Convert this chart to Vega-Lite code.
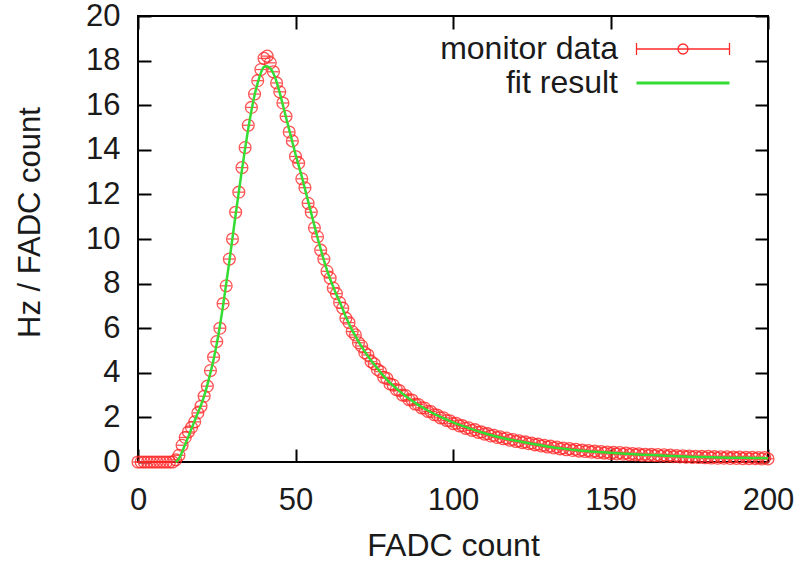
{
  "$schema": "https://vega.github.io/schema/vega-lite/v6.json",
  "autosize": "none",
  "width": 630,
  "height": 446,
  "padding": {"left": 138, "top": 16, "right": 34, "bottom": 101},
  "background": "white",
  "config": {
    "view": {"stroke": "black", "strokeWidth": 2},
    "font": "Liberation Sans"
  },
  "datasets": {
    "monitor": [
      {"x":0,"y":0},{"x":1,"y":0},{"x":2,"y":0},{"x":3,"y":0},{"x":4,"y":0},{"x":5,"y":0},{"x":6,"y":0},{"x":7,"y":0},{"x":8,"y":0},{"x":9,"y":0},{"x":10,"y":0},{"x":11,"y":0},
      {"x":12,"y":0.1},{"x":13,"y":0.3},{"x":14,"y":0.75},{"x":15,"y":1.1},{"x":16,"y":1.35},{"x":17,"y":1.55},{"x":18,"y":1.8},{"x":19,"y":2.2},{"x":20,"y":2.5},
      {"x":21,"y":2.95},{"x":22,"y":3.4},{"x":23,"y":4.1},{"x":24,"y":4.7},{"x":25,"y":5.4},{"x":26,"y":6.0},{"x":27,"y":7.1},{"x":28,"y":7.9},{"x":29,"y":9.1},{"x":30,"y":10.0},
      {"x":31,"y":11.2},{"x":32,"y":12.1},{"x":33,"y":13.2},{"x":34,"y":14.1},{"x":35,"y":15.1},{"x":36,"y":15.9},{"x":37,"y":16.5},{"x":38,"y":17.1},{"x":39,"y":17.6},{"x":40,"y":18.1},
      {"x":41,"y":18.2},{"x":42,"y":17.9},{"x":43,"y":17.5},{"x":44,"y":17.0},{"x":45,"y":16.6},{"x":46,"y":16.1},{"x":47,"y":15.5},{"x":48,"y":14.8},{"x":49,"y":14.4},{"x":50,"y":13.7},
      {"x":51,"y":13.4},{"x":52,"y":12.7},{"x":53,"y":12.3},{"x":54,"y":11.6},{"x":55,"y":11.2},{"x":56,"y":10.5},{"x":57,"y":10.1},{"x":58,"y":9.5},{"x":59,"y":9.1},{"x":60,"y":8.55},
      {"x":61,"y":8.25},{"x":62,"y":7.8},{"x":63,"y":7.55},{"x":64,"y":7.15},{"x":65,"y":6.9},{"x":66,"y":6.45},{"x":67,"y":6.25},{"x":68,"y":5.85},{"x":69,"y":5.7},{"x":70,"y":5.35},
      {"x":71,"y":5.2},{"x":72,"y":4.9},{"x":73,"y":4.8},{"x":74,"y":4.5},{"x":75,"y":4.4},{"x":76,"y":4.15},{"x":77,"y":4.05},{"x":78,"y":3.8},{"x":79,"y":3.75},{"x":80,"y":3.5},
      {"x":81,"y":3.45},{"x":82,"y":3.25},{"x":83,"y":3.2},{"x":84,"y":3.0},{"x":85,"y":2.98},{"x":86,"y":2.8},{"x":87,"y":2.78},{"x":88,"y":2.6},{"x":89,"y":2.58},{"x":90,"y":2.43},
      {"x":91,"y":2.42},{"x":92,"y":2.27},{"x":93,"y":2.26},{"x":94,"y":2.12},{"x":95,"y":2.11},{"x":96,"y":1.98},{"x":97,"y":1.98},{"x":98,"y":1.86},{"x":99,"y":1.85},{"x":100,"y":1.72},
      {"x":101,"y":1.74},{"x":102,"y":1.62},{"x":103,"y":1.63},{"x":104,"y":1.51},{"x":105,"y":1.53},{"x":106,"y":1.42},{"x":107,"y":1.45},{"x":108,"y":1.33},{"x":109,"y":1.35},{"x":110,"y":1.25},
      {"x":111,"y":1.27},{"x":112,"y":1.17},{"x":113,"y":1.2},{"x":114,"y":1.1},{"x":115,"y":1.13},{"x":116,"y":1.04},{"x":117,"y":1.07},{"x":118,"y":0.98},{"x":119,"y":1.01},{"x":120,"y":0.92},
      {"x":121,"y":0.95},{"x":122,"y":0.87},{"x":123,"y":0.9},{"x":124,"y":0.82},{"x":125,"y":0.85},{"x":126,"y":0.77},{"x":127,"y":0.8},{"x":128,"y":0.72},{"x":129,"y":0.75},{"x":130,"y":0.67},
      {"x":131,"y":0.71},{"x":132,"y":0.63},{"x":133,"y":0.67},{"x":134,"y":0.59},{"x":135,"y":0.63},{"x":136,"y":0.55},{"x":137,"y":0.6},{"x":138,"y":0.52},{"x":139,"y":0.57},{"x":140,"y":0.49},
      {"x":141,"y":0.54},{"x":142,"y":0.47},{"x":143,"y":0.51},{"x":144,"y":0.44},{"x":145,"y":0.49},{"x":146,"y":0.42},{"x":147,"y":0.47},{"x":148,"y":0.4},{"x":149,"y":0.45},{"x":150,"y":0.38},
      {"x":151,"y":0.43},{"x":152,"y":0.36},{"x":153,"y":0.42},{"x":154,"y":0.35},{"x":155,"y":0.4},{"x":156,"y":0.33},{"x":157,"y":0.38},{"x":158,"y":0.32},{"x":159,"y":0.37},{"x":160,"y":0.3},
      {"x":161,"y":0.35},{"x":162,"y":0.29},{"x":163,"y":0.34},{"x":164,"y":0.28},{"x":165,"y":0.33},{"x":166,"y":0.26},{"x":167,"y":0.32},{"x":168,"y":0.25},{"x":169,"y":0.31},{"x":170,"y":0.24},
      {"x":171,"y":0.29},{"x":172,"y":0.23},{"x":173,"y":0.28},{"x":174,"y":0.22},{"x":175,"y":0.27},{"x":176,"y":0.21},{"x":177,"y":0.26},{"x":178,"y":0.2},{"x":179,"y":0.25},{"x":180,"y":0.19},
      {"x":181,"y":0.25},{"x":182,"y":0.18},{"x":183,"y":0.24},{"x":184,"y":0.17},{"x":185,"y":0.23},{"x":186,"y":0.17},{"x":187,"y":0.23},{"x":188,"y":0.16},{"x":189,"y":0.22},{"x":190,"y":0.16},
      {"x":191,"y":0.22},{"x":192,"y":0.15},{"x":193,"y":0.21},{"x":194,"y":0.15},{"x":195,"y":0.21},{"x":196,"y":0.15},{"x":197,"y":0.2},{"x":198,"y":0.14},{"x":199,"y":0.2},{"x":200,"y":0.14}
    ],
    "fit": [
      {"x":12,"y":0},{"x":13,"y":0.15},{"x":14,"y":0.45},{"x":15,"y":0.8},{"x":16,"y":1.15},{"x":17,"y":1.5},{"x":18,"y":1.85},{"x":19,"y":2.2},{"x":20,"y":2.55},
      {"x":21,"y":2.95},{"x":22,"y":3.45},{"x":23,"y":4.0},{"x":24,"y":4.6},{"x":25,"y":5.3},{"x":26,"y":6.1},{"x":27,"y":7.0},{"x":28,"y":8.0},{"x":29,"y":9.0},{"x":30,"y":10.05},
      {"x":31,"y":11.1},{"x":32,"y":12.1},{"x":33,"y":13.1},{"x":34,"y":14.05},{"x":35,"y":14.95},{"x":36,"y":15.75},{"x":37,"y":16.45},{"x":38,"y":17.0},{"x":39,"y":17.45},{"x":40,"y":17.72},
      {"x":41,"y":17.75},{"x":42,"y":17.65},{"x":43,"y":17.42},{"x":44,"y":17.05},{"x":45,"y":16.55},{"x":46,"y":16.0},{"x":47,"y":15.45},{"x":48,"y":14.9},{"x":49,"y":14.35},{"x":50,"y":13.8},
      {"x":51,"y":13.3},{"x":52,"y":12.8},{"x":53,"y":12.25},{"x":54,"y":11.7},{"x":55,"y":11.15},{"x":56,"y":10.6},{"x":57,"y":10.05},{"x":58,"y":9.55},{"x":59,"y":9.05},{"x":60,"y":8.6},
      {"x":61,"y":8.2},{"x":62,"y":7.85},{"x":63,"y":7.5},{"x":64,"y":7.2},{"x":65,"y":6.85},{"x":66,"y":6.5},{"x":67,"y":6.2},{"x":68,"y":5.9},{"x":69,"y":5.65},{"x":70,"y":5.4},
      {"x":72,"y":4.95},{"x":74,"y":4.55},{"x":76,"y":4.2},{"x":78,"y":3.85},{"x":80,"y":3.55},{"x":82,"y":3.3},{"x":84,"y":3.06},{"x":86,"y":2.85},{"x":88,"y":2.65},{"x":90,"y":2.47},
      {"x":92,"y":2.31},{"x":94,"y":2.16},{"x":96,"y":2.02},{"x":98,"y":1.9},{"x":100,"y":1.78},{"x":105,"y":1.52},{"x":110,"y":1.29},{"x":115,"y":1.1},{"x":120,"y":0.95},{"x":125,"y":0.82},
      {"x":130,"y":0.7},{"x":135,"y":0.6},{"x":140,"y":0.52},{"x":145,"y":0.46},{"x":150,"y":0.41},{"x":155,"y":0.37},{"x":160,"y":0.33},{"x":165,"y":0.3},{"x":170,"y":0.27},{"x":175,"y":0.24},
      {"x":180,"y":0.22},{"x":185,"y":0.2},{"x":190,"y":0.19},{"x":195,"y":0.18},{"x":200,"y":0.17}
    ]
  },
  "resolve": {"axis": {"x": "independent", "y": "independent"}},
  "layer": [
    {
      "data": {"name": "monitor"},
      "mark": {"type": "point", "shape": "circle", "filled": false, "size": 140, "strokeWidth": 1.3, "opacity": 0.8, "clip": false},
      "encoding": {
        "x": {"field": "x", "type": "quantitative",
          "scale": {"domain": [0, 200], "nice": false, "zero": false},
          "axis": {"orient": "bottom", "offset": -13, "values": [0, 50, 100, 150, 200], "tickSize": 13, "tickWidth": 2, "tickColor": "black",
            "domain": false, "grid": false, "labelFont": "Liberation Sans", "labelFontSize": 31, "labelColor": "#1a1a1a",
            "labelPadding": 23, "labelFlush": false, "labelOverlap": false, "labelBound": false,
            "title": "FADC count", "titleFont": "Liberation Sans", "titleFontSize": 32, "titleFontWeight": "normal", "titleColor": "#1a1a1a",
            "titleX": 315, "titleY": 106, "titleAlign": "center", "titleBaseline": "alphabetic"}},
        "y": {"field": "y", "type": "quantitative",
          "scale": {"domain": [0, 20], "nice": false, "zero": false},
          "axis": {"orient": "left", "offset": -13, "values": [0, 2, 4, 6, 8, 10, 12, 14, 16, 18, 20], "tickSize": 13, "tickWidth": 2, "tickColor": "black",
            "domain": false, "grid": false, "labelFont": "Liberation Sans", "labelFontSize": 31, "labelColor": "#1a1a1a",
            "labelPadding": 18, "labelFlush": false, "labelOverlap": false, "labelBound": false,
            "title": "Hz / FADC count", "titleFont": "Liberation Sans", "titleFontSize": 31, "titleFontWeight": "normal", "titleColor": "#1a1a1a",
            "titleX": -121, "titleY": 206, "titleAngle": -90, "titleAlign": "center", "titleBaseline": "middle"}},
        "color": {"datum": "monitor data", "type": "nominal",
          "scale": {"domain": ["monitor data", "fit result"], "range": ["#ff2a2a", "#33dd33"]},
          "legend": {"title": null, "orient": "none", "legendX": 529, "legendY": 17, "padding": 0,
            "symbolSize": 100, "symbolOffset": 0, "rowPadding": 2, "symbolOpacity": 1,
            "symbolType": {"expr": "datum.value === 'fit result' ? 'M-9.3,0H9.3' : 'M-9.3,0H9.3M-9.3,-1.2V1.2M9.3,-1.2V1.2M1,0A1,1,0,1,1,-1,0A1,1,0,1,1,1,0'"},
            "symbolStrokeWidth": {"expr": "datum.value === 'fit result' ? 3 : 1.3"},
            "labelFont": "Liberation Sans", "labelFontSize": 32, "labelColor": "#1a1a1a", "labelAlign": "right", "labelOffset": -81, "labelLimit": 0,
            "encode": {"symbols": {
              "shape": {"value": {"expr": "datum.value === 'fit result' ? 'M-9.3,0H9.3' : 'M-9.3,0H9.3M-9.3,-1.2V1.2M9.3,-1.2V1.2M1,0A1,1,0,1,1,-1,0A1,1,0,1,1,1,0'"}},
              "strokeWidth": {"value": {"expr": "datum.value === 'fit result' ? 3 : 1.3"}},
              "fill": {"value": "transparent"}
            }}}}
      }
    },
    {
      "data": {"name": "monitor"},
      "mark": {"type": "point", "shape": "stroke", "filled": false, "size": 110, "strokeWidth": 1.3, "opacity": 0.8, "clip": false},
      "encoding": {
        "x": {"field": "x", "type": "quantitative", "axis": null},
        "y": {"field": "y", "type": "quantitative", "axis": null},
        "color": {"datum": "monitor data", "type": "nominal"}
      }
    },
    {
      "data": {"name": "fit"},
      "mark": {"type": "line", "interpolate": "monotone", "strokeWidth": 2.5},
      "encoding": {
        "x": {"field": "x", "type": "quantitative",
          "axis": {"orient": "top", "offset": -13, "values": [0, 50, 100, 150, 200], "tickSize": 13, "tickWidth": 2, "tickColor": "black", "domain": false, "grid": false, "labels": false, "title": null}},
        "y": {"field": "y", "type": "quantitative",
          "axis": {"orient": "right", "offset": -13, "values": [0, 2, 4, 6, 8, 10, 12, 14, 16, 18, 20], "tickSize": 13, "tickWidth": 2, "tickColor": "black", "domain": false, "grid": false, "labels": false, "title": null}},
        "color": {"datum": "fit result", "type": "nominal"}
      }
    }
  ]
}
